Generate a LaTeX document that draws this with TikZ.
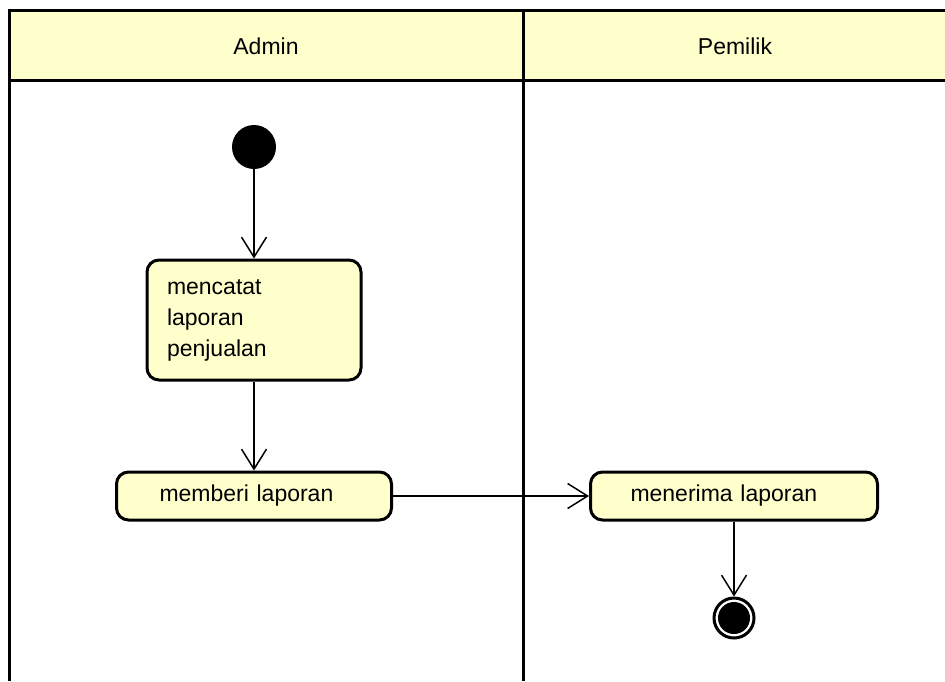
\documentclass[tikz,border=0pt]{standalone}
\usepackage{fontspec}
\setmainfont{Liberation Sans}
\usetikzlibrary{shapes}
\usetikzlibrary{arrows.meta}
\definecolor{paleyellow}{RGB}{255,255,204}
\tikzstyle{lane} = [line width=1.5pt]
\tikzstyle{lanetitle} = [font=\fontsize{11.5}{15.5}\selectfont]
\tikzstyle{action} = [draw, line width=1.5pt, rounded corners=6pt, fill=paleyellow, inner sep=0pt, align=left, font=\fontsize{11.5}{15.5}\selectfont]
\tikzstyle{initial} = [circle, fill=black, inner sep=0pt, minimum size=22pt]
\tikzstyle{final} = [circle, draw, line width=1.5pt, inner sep=0pt, minimum size=20pt]
\tikzstyle{flow} = [->, line width=0.75pt]
\tikzset{>={Straight Barb[length=10pt, width=12.5pt]}}

\begin{document}
\begin{tikzpicture}[x=0.5pt, y=-0.5pt]
  \useasboundingbox (0,0) rectangle (945,681);
  % Swimlanes
  \fill[paleyellow] (9,10) rectangle (945,80);
  \draw[lane] (945,10) -- (9,10) -- (9,681);
  \draw[lane] (9,80) -- (945,80);
  \draw[lane] (523,10) -- (523,681);
  \node[lanetitle] (admin) at (266,46) {Admin};
  \node[lanetitle] (pemilik) at (735,46) {Pemilik};
  % Activities
  \node[initial] (start) at (254,147) {};
  \node[action, minimum width=107pt, minimum height=60pt, text width=87pt] (mencatat) at (254,320) {mencatat\\laporan\\penjualan};
  \node[action, minimum width=137.5pt, minimum height=24pt, text width=94.5pt] (memberi) at (254,496) {memberi laporan};
  \node[action, minimum width=143.5pt, minimum height=24pt, text width=103.5pt] (menerima) at (734,496) {menerima laporan};
  \node[final] (stop) at (734,618) {};
  \fill (stop.center) circle (8pt);
  % Flows
  \draw[flow] (start) -- (mencatat);
  \draw[flow] (mencatat) -- (memberi);
  \draw[flow] (memberi) -- (menerima);
  \draw[flow] (menerima) -- (stop);
\end{tikzpicture}
\end{document}
